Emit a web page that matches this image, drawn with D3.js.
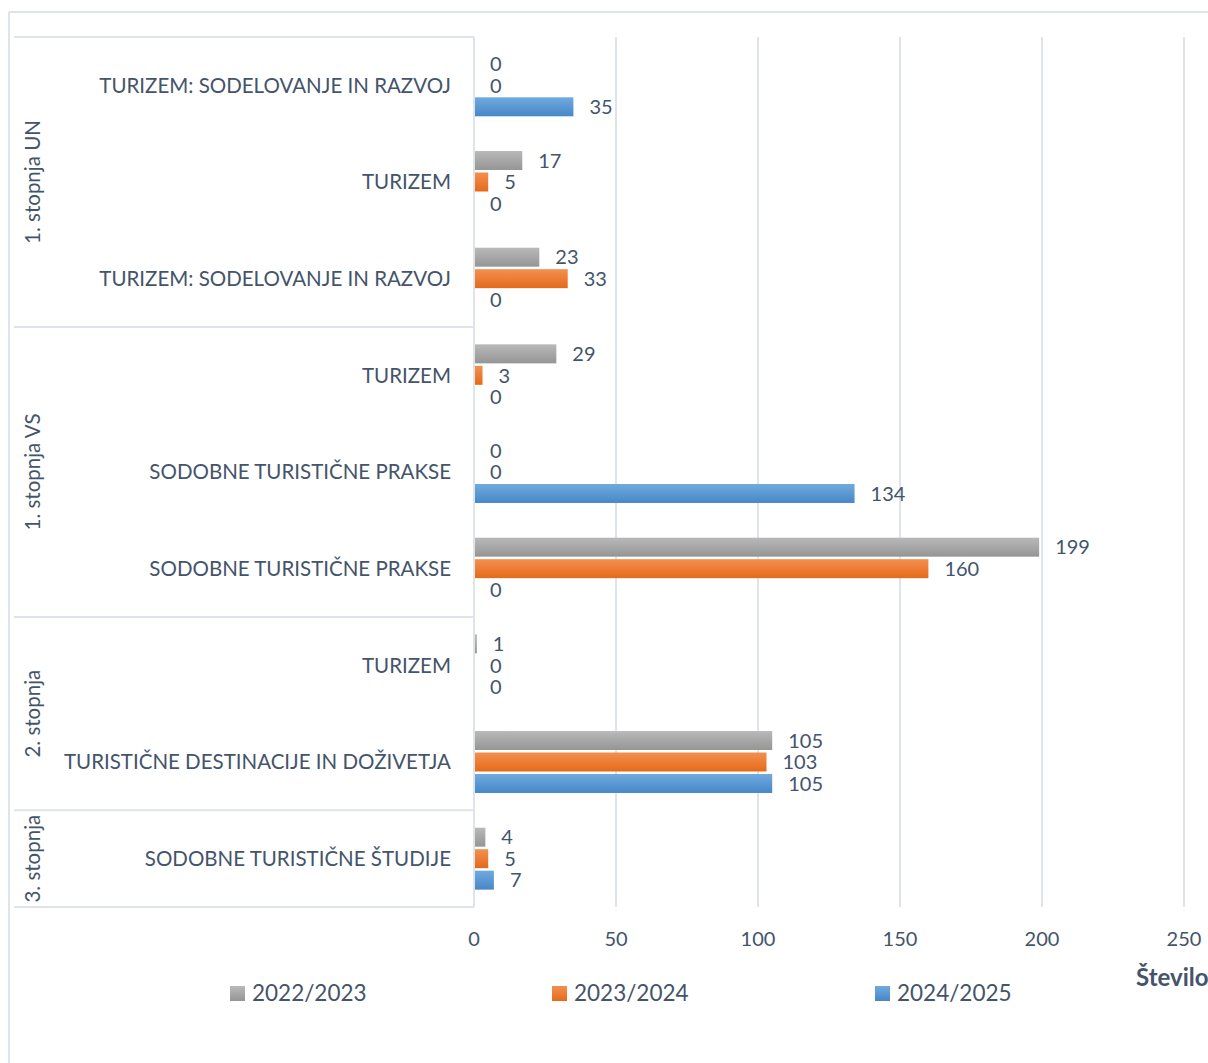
<!DOCTYPE html>
<html><head><meta charset="utf-8">
<script src="https://cdn.jsdelivr.net/npm/d3@7"></script>
<style>
html,body{margin:0;padding:0;background:#fff;}
svg{display:block;font-family:Lato,"Open Sans",sans-serif;}
</style></head>
<body>
<svg id="c" width="1208" height="1063"></svg>
<script>
const groups = ["1. stopnja UN","1. stopnja VS","2. stopnja","3. stopnja"];
const groupSizes = [3,3,2,1];
const categories = [
  "TURIZEM: SODELOVANJE IN RAZVOJ",
  "TURIZEM",
  "TURIZEM: SODELOVANJE IN RAZVOJ",
  "TURIZEM",
  "SODOBNE TURISTIČNE PRAKSE",
  "SODOBNE TURISTIČNE PRAKSE",
  "TURIZEM",
  "TURISTIČNE DESTINACIJE IN DOŽIVETJA",
  "SODOBNE TURISTIČNE ŠTUDIJE"
];
const seriesNames = ["2022/2023","2023/2024","2024/2025"];
const s2022 = [0,17,23,29,0,199,1,105,4];
const s2023 = [0,5,33,3,0,160,0,103,5];
const s2024 = [35,0,0,0,134,0,0,105,7];
const xTicks = [0,50,100,150,200,250];
const axisTitle = "Število";

const seriesData = [s2022,s2023,s2024];
const colors = [["#b9b9b9","#959595"],["#f3904f","#e56a1a"],["#70aadf","#4787c8"]];
const textColor = "#44546a";
const lineColor = "#dfe3ea";

const svg = d3.select("#c");
const defs = svg.append("defs");
colors.forEach((c,i)=>{
  const g = defs.append("linearGradient").attr("id","g"+i).attr("x1",0).attr("y1",0).attr("x2",0).attr("y2",1);
  g.append("stop").attr("offset","0%").attr("stop-color",c[0]);
  g.append("stop").attr("offset","100%").attr("stop-color",c[1]);
});

const plotTop = 37, plotBottom = 907;
const x = d3.scaleLinear().domain([0,250]).range([474,1184]);
const y = d3.scaleBand().domain(d3.range(categories.length)).range([plotTop,plotBottom]).padding(0);
const step = y.bandwidth();
const inner = d3.scaleBand().domain([0,1,2]).range([-step*3/9,step*3/9]).padding(0);
const barH = inner.bandwidth()-2.5;

// outer frame
svg.append("line").attr("x1",9).attr("x2",1208).attr("y1",12).attr("y2",12).attr("stroke",lineColor).attr("stroke-width",2);
svg.append("line").attr("x1",9).attr("x2",9).attr("y1",12).attr("y2",1063).attr("stroke",lineColor).attr("stroke-width",2);

// gridlines
svg.append("g").selectAll("line").data(xTicks).join("line")
  .attr("x1",d=>x(d)).attr("x2",d=>x(d)).attr("y1",plotTop).attr("y2",plotBottom)
  .attr("stroke",lineColor).attr("stroke-width",2);

// group separators
const bounds = [0];
groupSizes.forEach(s=>bounds.push(bounds[bounds.length-1]+s));
const sepY = bounds.map(b=> b<categories.length ? y(b) : plotBottom);
svg.append("g").selectAll("line").data(sepY).join("line")
  .attr("x1",14).attr("x2",474).attr("y1",d=>d).attr("y2",d=>d)
  .attr("stroke",lineColor).attr("stroke-width",2);

// bars
seriesData.forEach((vals,si)=>{
  svg.append("g").selectAll("rect").data(vals).join("rect")
    .attr("x",x(0)+1)
    .attr("y",(d,i)=>y(i)+step/2+inner(si)+(inner.bandwidth()-barH)/2)
    .attr("width",d=>Math.max(0,x(d)-x(0)-1))
    .attr("height",barH)
    .attr("fill","url(#g"+si+")");
  svg.append("g").selectAll("text").data(vals).join("text")
    .attr("x",d=>x(d)+16)
    .attr("y",(d,i)=>y(i)+step/2+inner(si)+inner.bandwidth()/2)
    .attr("dy","0.36em")
    .attr("fill",textColor).attr("font-size",20)
    .text(d=>d);
});

// category labels
svg.append("g").selectAll("text").data(categories).join("text")
  .attr("x",451).attr("y",(d,i)=>y(i)+step/2).attr("dy","0.36em")
  .attr("text-anchor","end").attr("fill",textColor).attr("font-size",20.5)
  .text(d=>d);

// group labels
groups.forEach((g,gi)=>{
  const cy = (sepY[gi]+sepY[gi+1])/2;
  svg.append("text").attr("transform",`translate(33,${cy}) rotate(-90)`)
    .attr("text-anchor","middle").attr("dy","0.36em")
    .attr("fill",textColor).attr("font-size",20.5).text(g);
});

// tick labels
svg.append("g").selectAll("text").data(xTicks).join("text")
  .attr("x",d=>x(d)).attr("y",939).attr("dy","0.36em")
  .attr("text-anchor","middle").attr("fill",textColor).attr("font-size",20)
  .text(d=>d);

// axis title
svg.append("text").attr("x",1136).attr("y",977).attr("dy","0.36em")
  .attr("fill",textColor).attr("font-size",24).attr("font-weight","bold").text(axisTitle);

// legend
const legX = [230,552,875];
seriesNames.forEach((n,i)=>{
  svg.append("rect").attr("x",legX[i]).attr("y",986).attr("width",15).attr("height",15).attr("fill","url(#g"+i+")");
  svg.append("text").attr("x",legX[i]+22).attr("y",993).attr("dy","0.36em")
    .attr("fill",textColor).attr("font-size",22.5).text(n);
});
</script>
</body></html>
